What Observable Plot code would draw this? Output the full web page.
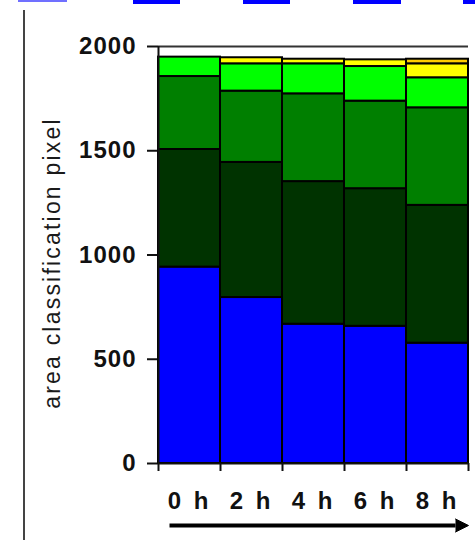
<!DOCTYPE html>
<html>
<head>
<meta charset="utf-8">
<script src="https://cdn.jsdelivr.net/npm/d3@7"></script>
<script src="https://cdn.jsdelivr.net/npm/@observablehq/plot@0.6"></script>
<style>
html, body { margin: 0; padding: 0; background: #ffffff; }
#wrap { position: relative; width: 475px; height: 540px; overflow: hidden; background: #ffffff; }
#wrap svg { position: absolute; left: 0; top: 0; }
.deco { position: absolute; top: 0; height: 4px; background: #0000ff; }
#vline { position: absolute; left: 23px; top: 10px; width: 2px; height: 530px; background: #444444; }
g[aria-label^="x-axis"] text { letter-spacing: 3px; }
g[aria-label^="y-axis"] text { letter-spacing: 1px; }
g[aria-label^="y-axis"] line, g[aria-label^="y-axis"] path { stroke-width: 2px; stroke: #111; }
g[aria-label="text"] text { letter-spacing: 2.2px; }
</style>
</head>
<body>
<div id="wrap">
  <div class="deco" style="left:18px;width:49px;height:2px;background:#7070ff;"></div>
  <div class="deco" style="left:133px;width:47px;"></div>
  <div class="deco" style="left:243px;width:47px;"></div>
  <div class="deco" style="left:353px;width:48px;"></div>
  <div class="deco" style="left:463px;width:12px;"></div>
  <div id="vline"></div>
</div>
<script>
// ---- data ----
const hours = [0, 2, 4, 6, 8];
const timeLabels = ["0 h", "2 h", "4 h", "6 h", "8 h"];
const classes = ["class 1", "class 2", "class 3", "class 4", "class 5", "class 6"];
const class1 = [942, 796, 668, 658, 577];
const class2 = [564, 648, 684, 660, 661];
const class3 = [350, 342, 421, 420, 468];
const class4 = [93, 131, 144, 166, 144];
const class5 = [0, 29, 22, 32, 67];
const class6 = [0, 0, 0, 0, 22];
const classColors = ["#0000ff", "#003300", "#007f00", "#00ff00", "#ffff00", "#ffcc00"];
const yTicks = [0, 500, 1000, 1500, 2000];
const yLabel = "area classification pixel";

// ---- build stacked table ----
const seriesValues = [class1, class2, class3, class4, class5, class6];
const rows = [];
hours.forEach((h, j) => {
  let base = 0;
  seriesValues.forEach((vals, i) => {
    const v = vals[j];
    if (v > 0) rows.push({hour: h, x1: h - 1, x2: h + 1, cls: classes[i], y1: base, y2: base + v});
    base += v;
  });
});

const W = 475, H = 540, mL = 158, mR = 7, mT = 46, mB = 77;
const halfBand = (hours[1] - hours[0]) / 2;
const xDomain = [hours[0] - halfBand, hours[hours.length - 1] + halfBand];
const pxPerX = (W - mL - mR) / (xDomain[1] - xDomain[0]);
const pxPerY = (H - mT - mB) / (yTicks[yTicks.length - 1] - yTicks[0]);
const edges = hours.map(h => h - halfBand).concat([hours[hours.length - 1] + halfBand]);

// arrow annotation under the axis
const arrowY = -62 / pxPerY;
const arrowStart = xDomain[0] + 11 / pxPerX;
const arrowTip = xDomain[1];
const headLen = 13 / pxPerX, headHalf = 6.5 / pxPerY;
const arrowShaft = [{x1: arrowStart, x2: arrowTip - headLen, y: arrowY}];
const arrowHead = [
  {x: arrowTip - headLen, y: arrowY + headHalf},
  {x: arrowTip, y: arrowY},
  {x: arrowTip - headLen, y: arrowY - headHalf}
];

const chart = Plot.plot({
  width: W, height: H,
  marginLeft: mL, marginRight: mR, marginTop: mT, marginBottom: mB,
  style: {fontFamily: "'Liberation Sans', Arial, sans-serif", fontSize: "24px", fontWeight: "bold", color: "#111", background: "transparent", overflow: "visible"},
  x: {domain: xDomain, ticks: hours, tickFormat: d => timeLabels[hours.indexOf(d)], tickSize: 0, tickPadding: 28, label: null},
  y: {domain: [yTicks[0], yTicks[yTicks.length - 1]], ticks: yTicks, tickFormat: d => String(d), tickSize: 11, tickPadding: 11, label: null},
  color: {domain: classes, range: classColors},
  marks: [
    Plot.ruleY([yTicks[yTicks.length - 1]], {stroke: "#333", strokeWidth: 2}),
    Plot.rect(rows, {x1: "x1", x2: "x2", y1: "y1", y2: "y2", fill: "cls", stroke: "#000", strokeWidth: 2}),
    Plot.ruleX([xDomain[0]], {y1: yTicks[0], y2: yTicks[yTicks.length - 1], stroke: "#111", strokeWidth: 2}),
    Plot.ruleY([yTicks[0]], {stroke: "#111", strokeWidth: 2}),
    Plot.ruleX(edges, {y1: 0, y2: -8 / pxPerY, stroke: "#111", strokeWidth: 2}),
    Plot.text([yLabel], {frameAnchor: "left", textAnchor: "middle", lineAnchor: "middle", dx: -106, dy: 8, rotate: -90, fontSize: 23, fontWeight: "normal", fill: "#1a1a1a"}),
    Plot.link(arrowShaft, {x1: "x1", x2: "x2", y1: "y", y2: "y", stroke: "#000", strokeWidth: 4}),
    Plot.line(arrowHead, {x: "x", y: "y", fill: "#000", stroke: "#000", strokeWidth: 1})
  ]
});
document.getElementById("wrap").appendChild(chart);
</script>
</body>
</html>
